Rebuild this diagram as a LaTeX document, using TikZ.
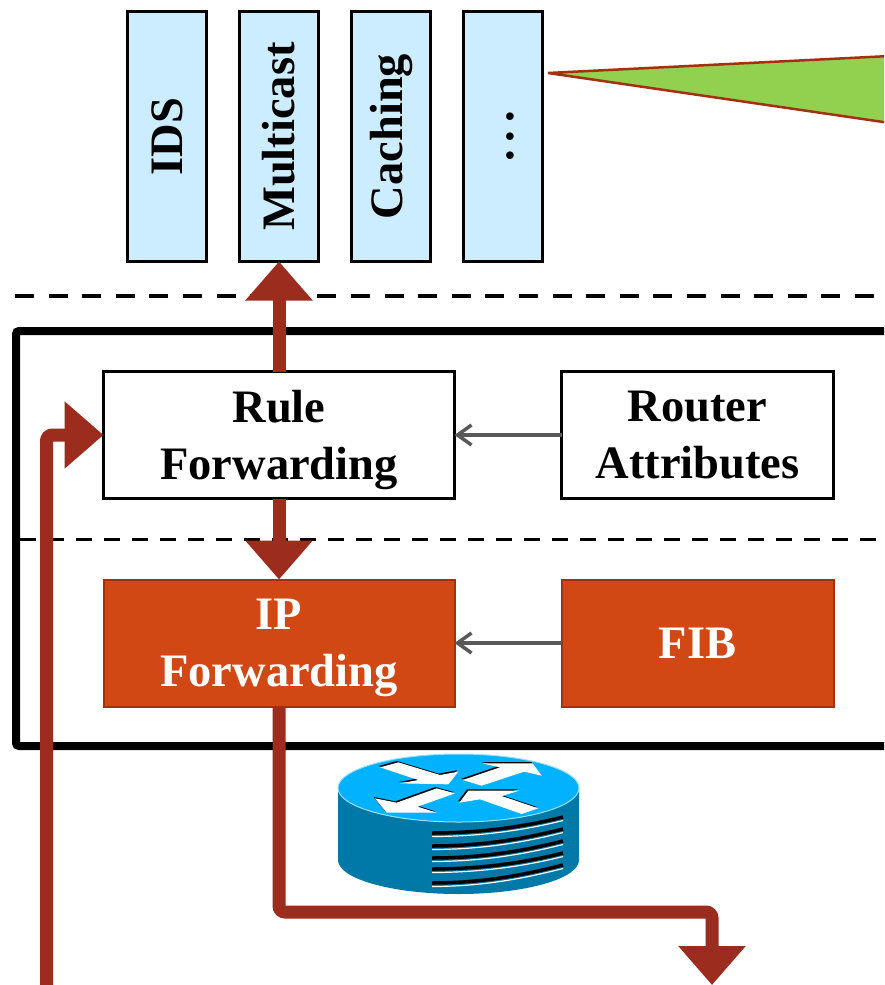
\documentclass[tikz,border=0pt]{standalone}
\usepackage{fontspec}
\setmainfont{Liberation Serif}
\usetikzlibrary{arrows.meta}

\definecolor{appblue}{HTML}{CCECFF}
\definecolor{ipred}{HTML}{D24815}
\definecolor{edgered}{HTML}{A5300F}
\definecolor{flowred}{HTML}{9C2D1E}
\definecolor{wedgegreen}{HTML}{92D050}
\definecolor{routertop}{HTML}{00B2FF}
\definecolor{routerside}{HTML}{0078A8}

\tikzset{
	label text/.style={font=\bfseries\fontsize{46.5}{57}\selectfont, align=center, inner sep=0, outer sep=0},
	app box/.style={label text, draw=black, line width=3, fill=appblue, minimum width=250, minimum height=79, rotate=90},
	plain box/.style={label text, draw=black, line width=3, fill=white, minimum height=127},
	ip box/.style={label text, draw=edgered, line width=2, fill=ipred, text=white, minimum height=127},
	flow/.style={draw=flowred, line width=13, rounded corners=6, -{Triangle[length=39, width=65]}},
	lookup/.style={draw=black!65, line width=3.5, -{Straight Barb[length=14, width=20]}}
}

\newcommand{\routerarrow}[1]{
	\fill[black, shift={(-4,-4)}] #1 -- cycle;
	\fill[white] #1 -- cycle;
}
\newcommand{\routerslot}[2]{
	\draw[black, line width=3.5] (432, #1) .. controls (490, #1) and (535, #2 + 7) .. (563, #2);
	\draw[white, line width=1.2] (432, #1 + 3.5) .. controls (490, #1 + 3.5) and (535, #2 + 10.5) .. (563, #2 + 3.5);
}
\newcommand{\nodepth}[1]{\raisebox{0pt}[\height][0pt]{#1}}

\begin{document}
\begin{tikzpicture}[x=1pt, y=-1pt]
	\clip (0, 0) rectangle (884, 985);
	\fill[white] (0, 0) rectangle (884, 985);

	% applications
	\node[app box] (ids) at (167, 136.5) {IDS};
	\node[app box] (multicast) at (279, 136.5) {Multicast};
	\node[app box] (caching) at (391, 136.5) {Caching};
	\node[app box] (more) at (503, 136.5) {\vphantom{Ig}.\,.\,.};
	\filldraw[fill=wedgegreen, draw=edgered, line width=2.5] (548, 73) -- (890, 56) -- (890, 123) -- cycle;

	% layers
	\draw[line width=4.3, dash pattern=on 19 off 14.6] (15, 296) -- (890, 296);
	\draw[line width=8, rounded corners=3] (890, 331) -- (16, 331) -- (16, 746) -- (890, 746);
	\draw[line width=3, dash pattern=on 16 off 12] (20, 539) -- (890, 539);

	\node[plain box, minimum width=351] (rule) at (279, 435) {Rule\\\nodepth{Forwarding}};
	\node[plain box, minimum width=272] (attributes) at (697.5, 435) {Router\\Attributes};
	\node[ip box, minimum width=351] (ip) at (279, 643) {IP\\\nodepth{Forwarding}};
	\node[ip box, minimum width=272] (fib) at (697.5, 643) {FIB};

	\draw[lookup] (attributes) -- (rule);
	\draw[lookup] (fib) -- (ip);

	% router
	\fill[routerside] (338, 788) -- (338, 860) arc[start angle=180, end angle=0, x radius=120.5, y radius=34] -- (579, 788) -- cycle;
	\filldraw[fill=routertop, draw=routertop!40, line width=1] (458.5, 788) ellipse[x radius=120.5, y radius=34];
	\begin{scope}[shift={(320, 740)}, x=1/3*1pt, y=-1/3*1pt]
		\routerarrow{(180,82) -- (235,67) -- (360,105) -- (415,95) -- (385,133) -- (240,130) -- (295,120)}
		\routerarrow{(428,120) -- (540,82) -- (487,70) -- (638,70) -- (665,107) -- (612,95) -- (485,137)}
		\routerarrow{(165,175) -- (230,188) -- (350,145) -- (405,160) -- (293,200) -- (350,218) -- (200,218)}
		\routerarrow{(418,188) -- (445,152) -- (598,152) -- (545,168) -- (655,205) -- (605,222) -- (480,178)}
	\end{scope}
	\routerslot{833}{817}
	\routerslot{846}{829}
	\routerslot{858}{841}
	\routerslot{869}{853}
	\routerslot{883}{865}

	% packet path
	\coordinate (packetin) at (46.5, 995);
	\coordinate (turn) at (712, 912);
	\coordinate (packetout) at (712, 985);
	\draw[flow] (rule) -- (multicast.west);
	\draw[flow] (rule) -- (ip);
	\draw[flow] (packetin) |- (rule);
	\draw[flow] (ip) |- (turn) -- (packetout);
\end{tikzpicture}
\end{document}
